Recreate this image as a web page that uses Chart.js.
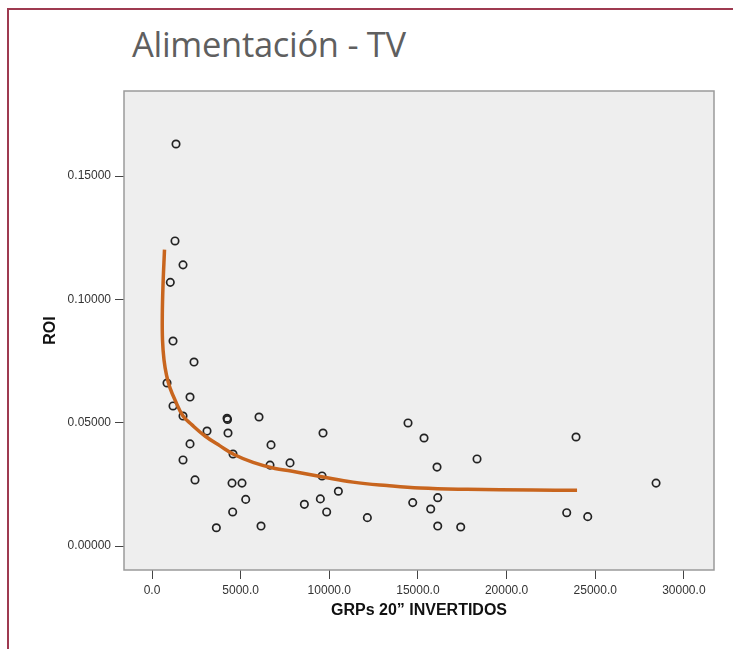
<!DOCTYPE html>
<html>
<head>
<meta charset="utf-8">
<style>
  body { margin: 0; background: #fff; }
  #wrap { position: relative; width: 733px; height: 649px; overflow: hidden; }
  #frame { position: absolute; left: 7px; top: 8px; right: -10px; bottom: -10px;
           border-left: 2.5px solid #9e3a50; border-top: 2.5px solid #9e3a50; }
  #title { position: absolute; left: 132px; top: 27px; font-family: "Open Sans", sans-serif;
           font-weight: 400; font-size: 34.5px; line-height: 1; color: #5f5f5f; white-space: nowrap;
           letter-spacing: -0.3px; }
  canvas { position: absolute; left: 0; top: 0; }
</style>
</head>
<body>
<div id="wrap">
  <div id="frame"></div>
  <div id="title">Alimentación - TV</div>
  <canvas id="myChart" width="733" height="649"></canvas>
</div>
<script src="https://cdn.jsdelivr.net/npm/chart.js"></script>
<script>
    // puntos observados (GRPs, ROI)
    const grps = [1354, 1297, 1749, 1032, 1185, 2369, 846, 2144, 1185, 1749,
                  4231, 4260, 6036, 3103, 4287, 9646, 14441, 15344, 23918, 2144,
                  6713, 4569, 1749, 18333, 16077, 6656, 7785, 9590, 2425, 4513,
                  5077, 28432, 10512, 5286, 9495, 8594, 14706, 4550, 9852, 12147,
                  3629, 6149, 16117, 15720, 16117, 17413, 23392, 24578];
    const roi = [0.1630, 0.1237, 0.1140, 0.1069, 0.0831, 0.0746, 0.0661, 0.0604, 0.0568, 0.0527,
                 0.0518, 0.0513, 0.0523, 0.0466, 0.0458, 0.0458, 0.0499, 0.0438, 0.0442, 0.0414,
                 0.0410, 0.0373, 0.0349, 0.0353, 0.0320, 0.0328, 0.0337, 0.0284, 0.0268, 0.0255,
                 0.0255, 0.0255, 0.0222, 0.0189, 0.0191, 0.0169, 0.0176, 0.0138, 0.0138, 0.0115,
                 0.0074, 0.0081, 0.0196, 0.0150, 0.0081, 0.0077, 0.0135, 0.0119];

    // curva ajustada
    const ajusteX = [705, 621, 581, 592, 677, 818, 1015, 1297, 1749, 2256,
                     2990, 3836, 4626, 5698, 6939, 7841, 9646, 11339, 13257, 15118,
                     17770, 21493, 23975];
    const ajusteY = [0.1202, 0.1058, 0.0937, 0.0836, 0.0754, 0.0693, 0.0641, 0.0592, 0.0527, 0.0491,
                     0.0446, 0.0406, 0.0371, 0.0339, 0.0314, 0.0304, 0.0280, 0.0259, 0.0245, 0.0235,
                     0.0230, 0.0227, 0.0226];

    const ticksX = [0, 5000, 10000, 15000, 20000, 25000, 30000];
    const ticksY = [0, 0.05, 0.10, 0.15];

    const fondo = {
        id: 'fondo',
        beforeDraw(chart) {
            const {ctx, chartArea: a} = chart;
            ctx.save();
            ctx.fillStyle = '#eeeeee';
            ctx.fillRect(a.left, a.top, a.right - a.left, a.bottom - a.top);
            ctx.restore();
        },
        afterDatasetsDraw(chart) {
            const {ctx, chartArea: a} = chart;
            ctx.save();
            ctx.strokeStyle = '#9a9a9a';
            ctx.lineWidth = 1.5;
            ctx.strokeRect(a.left, a.top, a.right - a.left, a.bottom - a.top);
            ctx.restore();
        }
    };

    const config = {
        type: 'scatter',
        data: {
            datasets: [{
                label: 'Ajuste',
                data: ajusteX.map((x, i) => ({x: x, y: ajusteY[i]})),
                showLine: true,
                borderColor: '#c8651e',
                borderWidth: 3.5,
                pointRadius: 0,
                tension: 0.4,
                order: 0
            }, {
                label: 'ROI',
                data: grps.map((x, i) => ({x: x, y: roi[i]})),
                pointRadius: 3.7,
                pointBorderWidth: 1.7,
                pointBorderColor: '#222',
                pointBackgroundColor: 'rgba(0,0,0,0)',
                order: 1
            }]
        },
        options: {
            responsive: false,
            animation: false,
            layout: { padding: { left: 0, top: 91, right: 19, bottom: 0 } },
            plugins: { legend: { display: false }, tooltip: { enabled: false } },
            scales: {
                x: {
                    type: 'linear',
                    min: -1580,
                    max: 31700,
                    afterBuildTicks: s => { s.ticks = ticksX.map(v => ({value: v})); },
                    afterFit: s => { s.height = 79; },
                    grid: { drawOnChartArea: false, tickLength: 9, color: '#444' },
                    border: { display: false },
                    ticks: {
                        padding: 4, maxRotation: 0, color: '#333',
                        font: { family: 'Liberation Sans', size: 12 },
                        callback: v => v.toFixed(1)
                    },
                    title: {
                        display: true, text: 'GRPs 20\u201d INVERTIDOS', color: '#111',
                        font: { family: 'Liberation Sans', size: 16, weight: 'bold' },
                        padding: { top: 0, bottom: 29 }
                    }
                },
                y: {
                    type: 'linear',
                    min: -0.00973,
                    max: 0.1845,
                    afterBuildTicks: s => { s.ticks = ticksY.map(v => ({value: v})); },
                    afterFit: s => { s.width = 124; },
                    grid: { drawOnChartArea: false, tickLength: 9, color: '#444' },
                    border: { display: false },
                    ticks: {
                        padding: 4, color: '#333',
                        font: { family: 'Liberation Sans', size: 12 },
                        callback: v => v.toFixed(5)
                    },
                    title: {
                        display: true, text: 'ROI', color: '#111',
                        font: { family: 'Liberation Sans', size: 16, weight: 'bold' },
                        padding: { top: 41, bottom: 0 }
                    }
                }
            }
        },
        plugins: [fondo]
    };

    new Chart(document.getElementById('myChart'), config);
</script>
</body>
</html>
